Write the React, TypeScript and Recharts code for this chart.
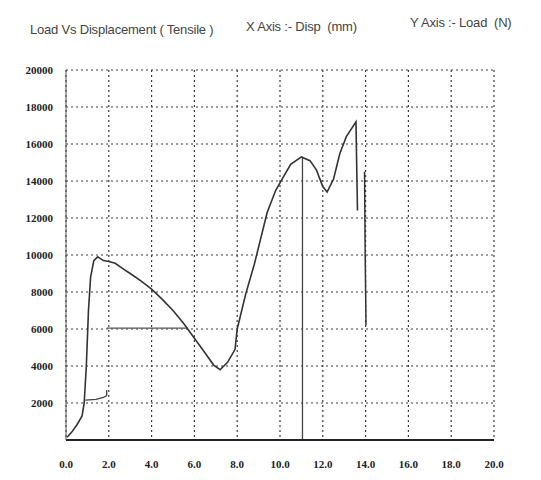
import { LineChart, Line, XAxis, YAxis, CartesianGrid } from "recharts";

// Load vs displacement (tensile)
const dispMain = [
  0.05, 0.25, 0.5, 0.75, 0.85, 0.95, 1.05, 1.15, 1.3, 1.48, 1.75, 2.0, 2.3, 2.6, 3.0,
  3.5, 4.0, 4.5, 5.0, 5.5, 6.0, 6.5, 6.9, 7.2, 7.55, 7.9, 8.0, 8.4, 8.8, 9.4, 9.8,
  10.2, 10.5, 11.0, 11.4, 11.7, 12.0, 12.2, 12.5, 12.8, 13.1, 13.55, 13.62,
];
const loadMain = [
  150, 400, 800, 1300, 2000, 4000, 7000, 8800, 9700, 9900, 9700, 9650, 9550, 9300, 9000,
  8600, 8150, 7600, 7000, 6300, 5500, 4700, 4050, 3800, 4200, 4900, 6000, 7900, 9500,
  12300, 13500, 14300, 14900, 15300, 15100, 14600, 13700, 13400, 14100, 15500, 16400,
  17200, 12400,
];

// final drop after fracture
const dispDrop = [13.95, 13.98, 14.02];
const loadDrop = [14500, 10000, 6200];

// marker line under first maximum
const dispMark = [11.05, 11.05];
const loadMark = [15300, 0];

// short trace near 2000 N
const dispLow = [0.9, 1.4, 1.75, 1.9, 1.9];
const loadLow = [2150, 2200, 2300, 2400, 2700];

// stray trace along 6000 N
const dispStray = [1.9, 5.7];
const loadStray = [6050, 6050];

const xTicks = [0, 2, 4, 6, 8, 10, 12, 14, 16, 18, 20];
const yTicks = [0, 2000, 4000, 6000, 8000, 10000, 12000, 14000, 16000, 18000, 20000];

const zip = (xs: number[], ys: number[]) => xs.map((d, i) => ({ disp: d, load: ys[i] }));

const mainData = zip(dispMain, loadMain);
const dropData = zip(dispDrop, loadDrop);
const markData = zip(dispMark, loadMark);
const lowData = zip(dispLow, loadLow);
const strayData = zip(dispStray, loadStray);

const tickStyle = { fontSize: 11, fill: "#222", fontFamily: "Liberation Serif", fontWeight: 700 };
const headStyle: React.CSSProperties = {
  position: "absolute",
  fontFamily: "Liberation Sans",
  fontSize: 13,
  color: "#444",
  whiteSpace: "nowrap",
  letterSpacing: -0.2,
};

export default function App() {
  return (
    <div style={{ position: "absolute", left: 0, top: 0, width: 541, height: 480, background: "#fff" }}>
      <div style={{ ...headStyle, left: 30, top: 22 }}>Load Vs Displacement ( Tensile )</div>
      <div style={{ ...headStyle, left: 246, top: 19 }}>X Axis :- Disp&nbsp; (mm)</div>
      <div style={{ ...headStyle, left: 410, top: 15 }}>Y Axis :- Load&nbsp; (N)</div>
      <LineChart
        width={541}
        height={480}
        margin={{ top: 70, right: 47, left: 6, bottom: 10 }}
        style={{ position: "absolute", left: 0, top: 0 }}
      >
        <CartesianGrid stroke="#3a3a3a" strokeDasharray="2 3" strokeWidth={1.2} />
        <XAxis
          dataKey="disp"
          type="number"
          domain={[0, 20]}
          ticks={xTicks}
          tickFormatter={(v) => Number(v).toFixed(1)}
          tick={tickStyle}
          tickLine={false}
          tickMargin={14}
          height={30}
          axisLine={{ stroke: "#222", strokeWidth: 2 }}
        />
        <XAxis
          xAxisId="top"
          orientation="top"
          type="number"
          domain={[0, 20]}
          tick={false}
          tickLine={false}
          height={0}
          axisLine={{ stroke: "#222", strokeWidth: 2.5 }}
        />
        <YAxis
          type="number"
          domain={[0, 20000]}
          ticks={yTicks}
          tickFormatter={(v) => (v === 0 ? "" : String(v))}
          tick={tickStyle}
          tickLine={false}
          tickMargin={7}
          width={60}
          axisLine={{ stroke: "#555", strokeWidth: 1 }}
        />
        <YAxis
          yAxisId="right"
          orientation="right"
          type="number"
          domain={[0, 20000]}
          tick={false}
          tickLine={false}
          width={0}
          axisLine={{ stroke: "#333", strokeWidth: 1.5 }}
        />
        <Line data={strayData} dataKey="load" stroke="#555" strokeWidth={1.2} dot={false} isAnimationActive={false} />
        <Line data={markData} dataKey="load" stroke="#444" strokeWidth={1.3} dot={false} isAnimationActive={false} />
        <Line data={lowData} dataKey="load" stroke="#444" strokeWidth={1.3} dot={false} isAnimationActive={false} />
        <Line data={dropData} dataKey="load" stroke="#333" strokeWidth={1.5} dot={false} isAnimationActive={false} />
        <Line data={mainData} dataKey="load" stroke="#333" strokeWidth={1.6} dot={false} isAnimationActive={false} />
      </LineChart>
    </div>
  );
}
